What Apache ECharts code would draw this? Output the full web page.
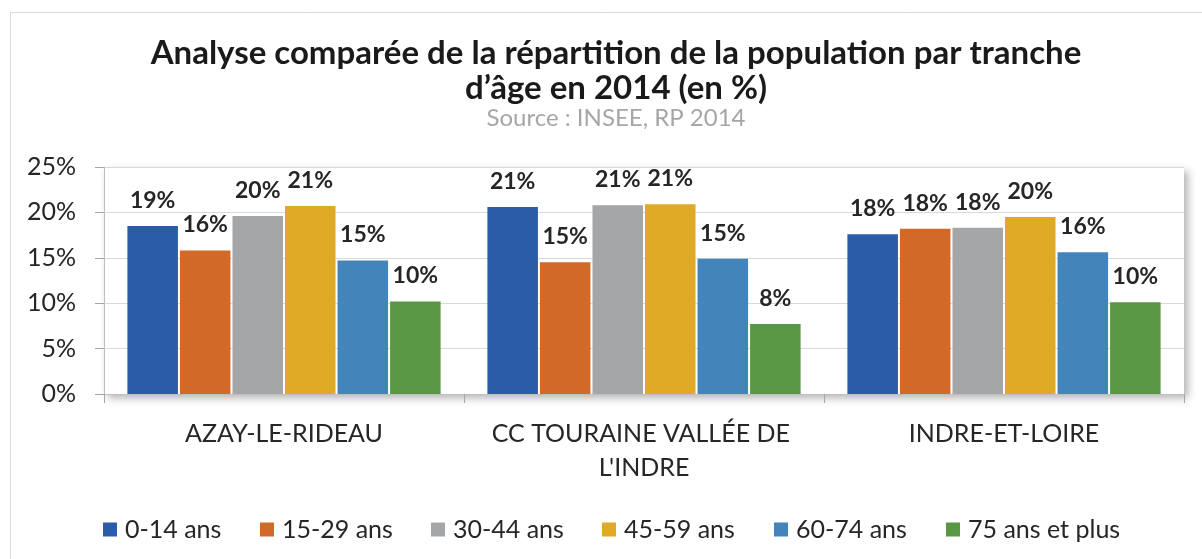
<!DOCTYPE html>
<html>
<head>
<meta charset="utf-8">
<title>Population par tranche d'âge</title>
<script src="https://cdn.jsdelivr.net/npm/echarts@6/dist/echarts.min.js"></script>
<style>
  html, body { margin: 0; padding: 0; background: #fff; }
  #chart { width: 1202px; height: 559px; }
</style>
</head>
<body>
<div id="chart"></div>
<script>
// données (en %)
const categories = ["AZAY-LE-RIDEAU", "CC TOURAINE VALLÉE DE L'INDRE", "INDRE-ET-LOIRE"];
const ageGroups = ["0-14 ans", "15-29 ans", "30-44 ans", "45-59 ans", "60-74 ans", "75 ans et plus"];
const age0_14 = [18.5, 20.6, 17.6];
const age15_29 = [15.8, 14.5, 18.2];
const age30_44 = [19.6, 20.8, 18.3];
const age45_59 = [20.7, 20.9, 19.5];
const age60_74 = [14.7, 14.9, 15.6];
const age75plus = [10.2, 7.7, 10.1];
const yTicks = [0, 5, 10, 15, 20, 25];

const seriesData = [age0_14, age15_29, age30_44, age45_59, age60_74, age75plus];
const colors = ["#2a5ca8", "#d16a28", "#a5a6a8", "#dfaa26", "#4384bb", "#5a9744"];
const legendLeft = [103, 260, 431, 602, 774, 946];
const font = "Lato";

const chart = echarts.init(document.getElementById("chart"));

chart.setOption({
  animation: false,
  color: colors,
  title: [
    {
      text: "Analyse comparée de la répartition de la population par tranche\nd’âge en 2014 (en %)",
      left: 611,
      textAlign: "center",
      top: 31,
      textStyle: { fontFamily: font, fontWeight: "bold", fontSize: 33, lineHeight: 35, color: "#1a1a1a" }
    },
    {
      text: "Source : INSEE, RP 2014",
      left: 611,
      textAlign: "center",
      top: 99,
      textStyle: { fontFamily: font, fontWeight: "normal", fontSize: 24, lineHeight: 28, color: "#a6a6a6" }
    }
  ],
  legend: ageGroups.map(function (name, i) {
    return {
      data: [name],
      left: legendLeft[i],
      top: 517,
      padding: 0,
      icon: "rect",
      itemWidth: 14,
      itemHeight: 14,
      selectedMode: false,
      textStyle: { fontFamily: font, fontSize: 25, color: "#262626", padding: [0, 0, 0, 3] }
    };
  }),
  grid: {
    left: 104,
    right: 18,
    top: 167,
    bottom: 165,
    show: true,
    backgroundColor: "#fff",
    borderWidth: 0,
    shadowColor: "rgba(0,0,0,0.3)",
    shadowBlur: 8,
    shadowOffsetX: 4,
    shadowOffsetY: 4
  },
  xAxis: {
    type: "category",
    data: categories,
    axisLine: { lineStyle: { color: "#bfbfbf", width: 1 } },
    axisTick: { show: true, length: 9, lineStyle: { color: "#a6a6a6" } },
    axisLabel: {
      fontFamily: font,
      fontSize: 25,
      lineHeight: 34,
      color: "#262626",
      margin: 23,
      width: 320,
      overflow: "break",
      interval: 0
    }
  },
  yAxis: {
    type: "value",
    min: yTicks[0],
    max: yTicks[yTicks.length - 1],
    interval: 5,
    axisLine: { show: true, lineStyle: { color: "#bfbfbf" } },
    axisTick: { show: true, length: 9, lineStyle: { color: "#a6a6a6" } },
    axisLabel: { fontFamily: font, fontSize: 25, color: "#262626", margin: 28, formatter: "{value}%" },
    splitLine: { lineStyle: { color: "#d9d9d9" } }
  },
  series: ageGroups.map(function (name, i) {
    return {
      name: name,
      type: "bar",
      data: seriesData[i],
      barGap: "4%",
      barCategoryGap: "13%",
      label: {
        show: true,
        position: "top",
        distance: 14,
        fontFamily: font,
        fontWeight: "bold",
        fontSize: 23,
        color: "#262626",
        formatter: function (p) { return Math.round(p.value) + "%"; }
      }
    };
  }),
  graphic: [
    {
      type: "rect",
      silent: true,
      z: -1,
      shape: { x: 10.5, y: 12.5, width: 1300, height: 700 },
      style: { fill: "none", stroke: "#d9d9d9", lineWidth: 1 }
    }
  ]
});
</script>
</body>
</html>
